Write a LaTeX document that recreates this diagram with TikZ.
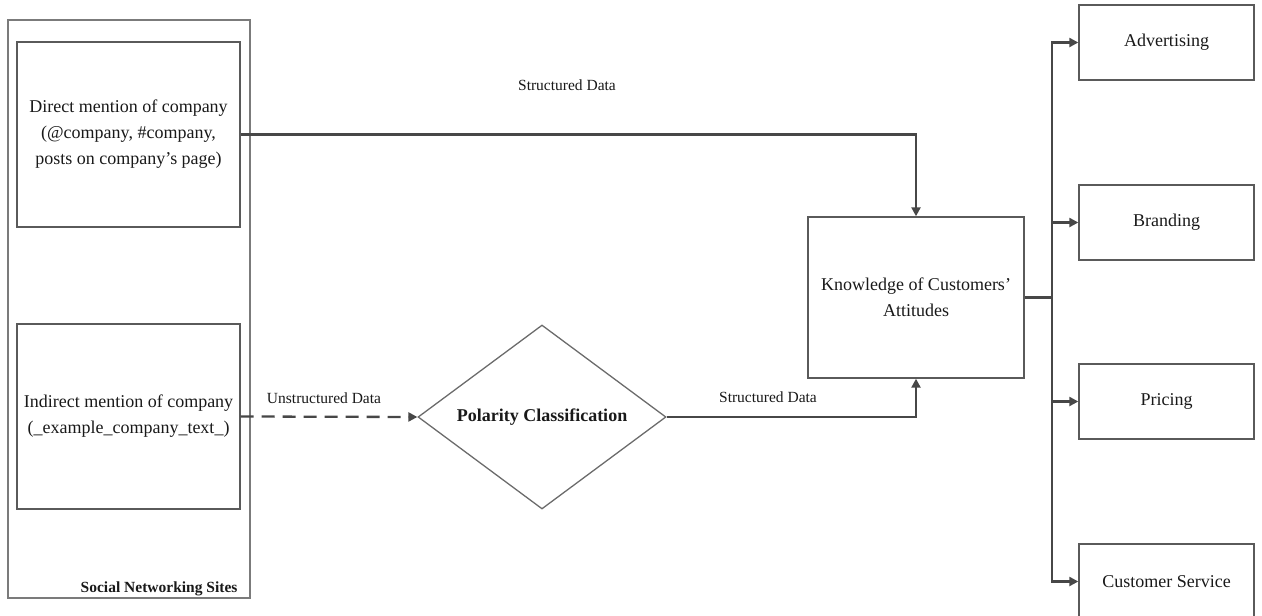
\documentclass[tikz,border=0pt]{standalone}
\usepackage{fontspec}
\setmainfont{Liberation Serif}
\usetikzlibrary{arrows.meta,shapes.geometric}
\definecolor{linegray}{HTML}{474747}
\definecolor{boxgray}{HTML}{5A5A5A}
\begin{document}
\begin{tikzpicture}[x=1pt,y=-1pt,
  every node/.style={font=\fontsize{18}{26}\selectfont, text=black!90},
  plainbox/.style={draw=boxgray, line width=1.4pt, inner sep=0pt, align=center},
  outerbox/.style={draw=boxgray!80, line width=1.4pt, inner sep=0pt},
  decision/.style={diamond, draw=boxgray!90, line width=1.3pt, inner sep=0pt, aspect=1.35,
    minimum width=248pt, minimum height=184pt, font=\fontsize{18}{22}\selectfont\bfseries},
  flowlabel/.style={font=\fontsize{15.5}{18}\selectfont},
  arr/.style={draw=linegray, line width=2.3pt, -{Triangle[length=9pt,width=9pt]}},
  conn/.style={draw=linegray, line width=2.3pt},
  dashedarr/.style={arr, dash pattern=on 13pt off 8pt}
]
\useasboundingbox (0,0) rectangle (1262,616);

% social networking sites container with its two sources
\node[outerbox, minimum width=242pt, minimum height=578pt] (sns) at (129,309) {};
\node[anchor=base east, font=\fontsize{15.5}{18}\selectfont\bfseries] (snslabel) at (241,592) {Social Networking Sites};
\node[plainbox, minimum width=223pt, minimum height=185pt] (direct) at (128.5,134.5)
  {Direct mention of company\\(@company, \#company,\\posts on company’s page)};
\node[plainbox, minimum width=223pt, minimum height=185pt] (indirect) at (128.5,416.5)
  {Indirect mention of company\\(\_example\_company\_text\_)};

% classification and knowledge
\node[decision] (polarity) at (542,417) {Polarity Classification};
\node[plainbox, minimum width=216pt, minimum height=161pt] (know) at (916,297.5)
  {Knowledge of Customers’\\Attitudes};

% application areas
\node[plainbox, minimum width=175pt, minimum height=75pt] (adv) at (1166.5,42.5) {Advertising};
\node[plainbox, minimum width=175pt, minimum height=75pt] (brand) at (1166.5,222.5) {Branding};
\node[plainbox, minimum width=175pt, minimum height=75pt] (price) at (1166.5,401.5) {Pricing};
\node[plainbox, minimum width=175pt, minimum height=75pt] (service) at (1166.5,581.5) {Customer Service};

% flow labels
\node[flowlabel] (lbltop) at (567,85) {Structured Data};
\node[flowlabel] (lblunstr) at (324,398) {Unstructured Data};
\node[flowlabel] (lblbottom) at (768,397) {Structured Data};

% connectors
\draw[arr] (direct.east) -| (know.north);
\draw[dashedarr] (indirect.east) -- (polarity.west);
\draw[arr] (polarity.east) -| (know.south);

\coordinate (split) at (1052,297.5);
\draw[conn] (know.east) -- (split);
\draw[arr] (split) |- (adv.west);
\draw[arr] (split) |- (brand.west);
\draw[arr] (split) |- (price.west);
\draw[arr] (split) |- (service.west);
\end{tikzpicture}
\end{document}
